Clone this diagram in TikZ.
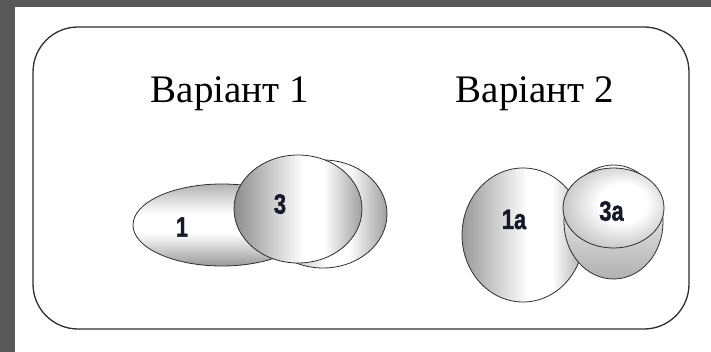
\documentclass[tikz,border=0pt]{standalone}
\usepackage{fontspec}
\usetikzlibrary{shapes.geometric}
\newfontfamily\ttlfont{Liberation Serif}
\newfontfamily\labfont[BoldFeatures={FakeBold=1.5}]{Liberation Sans}
\definecolor{framegray}{HTML}{595959}
\definecolor{edgecol}{HTML}{2E2E2E}
\definecolor{labcol}{HTML}{141A2A}
\pgfdeclarehorizontalshading{hsh}{100bp}{color(0bp)=(gray!90); color(25bp)=(gray!90); color(52bp)=(white); color(60bp)=(white); color(75bp)=(gray!75); color(100bp)=(gray!75)}
\pgfdeclarehorizontalshading{hshb}{100bp}{color(0bp)=(gray!80); color(25bp)=(gray!80); color(52bp)=(white); color(62bp)=(white); color(75bp)=(gray!65); color(100bp)=(gray!65)}
\pgfdeclareverticalshading{vsha}{100bp}{color(0bp)=(gray!80); color(25bp)=(gray!80); color(45bp)=(white); color(57bp)=(white); color(75bp)=(gray!60); color(100bp)=(gray!60)}
\pgfdeclareverticalshading{vshb}{100bp}{color(0bp)=(gray!62); color(25bp)=(gray!62); color(55bp)=(gray!20); color(75bp)=(white); color(100bp)=(white)}
\pgfdeclareradialshading{rsh}{\pgfpoint{6bp}{4bp}}{color(0bp)=(white); color(12bp)=(white); color(28bp)=(gray!45); color(50bp)=(gray!70)}
\tikzset{
  blob/.style={ellipse, draw=edgecol, line width=0.8pt, inner sep=0pt},
  title/.style={font=\ttlfont\fontsize{39}{39}\selectfont, anchor=base, inner sep=0pt},
  numlab/.style={font=\labfont\bfseries\fontsize{28}{28}\selectfont, text=labcol, inner sep=0pt}
}
\newcommand{\narrowtxt}[1]{\scalebox{0.78}[1]{#1}}
\begin{document}
\begin{tikzpicture}[x=1pt,y=-1pt]
\useasboundingbox (0,0) rectangle (711,352);
\fill[framegray] (0,0) rectangle (711,7);
\fill[framegray] (0,0) rectangle (15,352);
\node[draw=edgecol, line width=1.3pt, rounded corners=45pt, minimum width=656pt, minimum height=302pt, inner sep=0pt] (box) at (361,178) {};
\node[title] (t1) at (230,103) {Варіант 1};
\node[title] (t2) at (535,103) {Варіант 2};
% Variant 1
\node[blob, shading=vsha, minimum width=178pt, minimum height=82pt] (e1) at (222,225) {};
\node[blob, shading=hsh, minimum width=128pt, minimum height=108pt] (e3b) at (323,214) {};
\node[blob, shading=hsh, minimum width=128pt, minimum height=108pt] (e3) at (298,209) {};
\node[numlab] (l1) at (182,227) {\narrowtxt{1}};
\node[numlab] (l3) at (280,204) {\narrowtxt{3}};
% Variant 2
\node[blob, shading=hshb, minimum width=122pt, minimum height=134pt] (e1a) at (523,235) {};
\node[blob, shading=vshb, minimum width=99pt, minimum height=114pt] (e3ab) at (613.5,222) {};
\node[blob, shading=rsh, minimum width=101pt, minimum height=80pt] (e3a) at (613.5,208) {};
\node[numlab] (l1a) at (514,219.5) {\narrowtxt{1a}};
\node[numlab] (l3a) at (611.5,211) {\narrowtxt{3a}};
\end{tikzpicture}
\end{document}
